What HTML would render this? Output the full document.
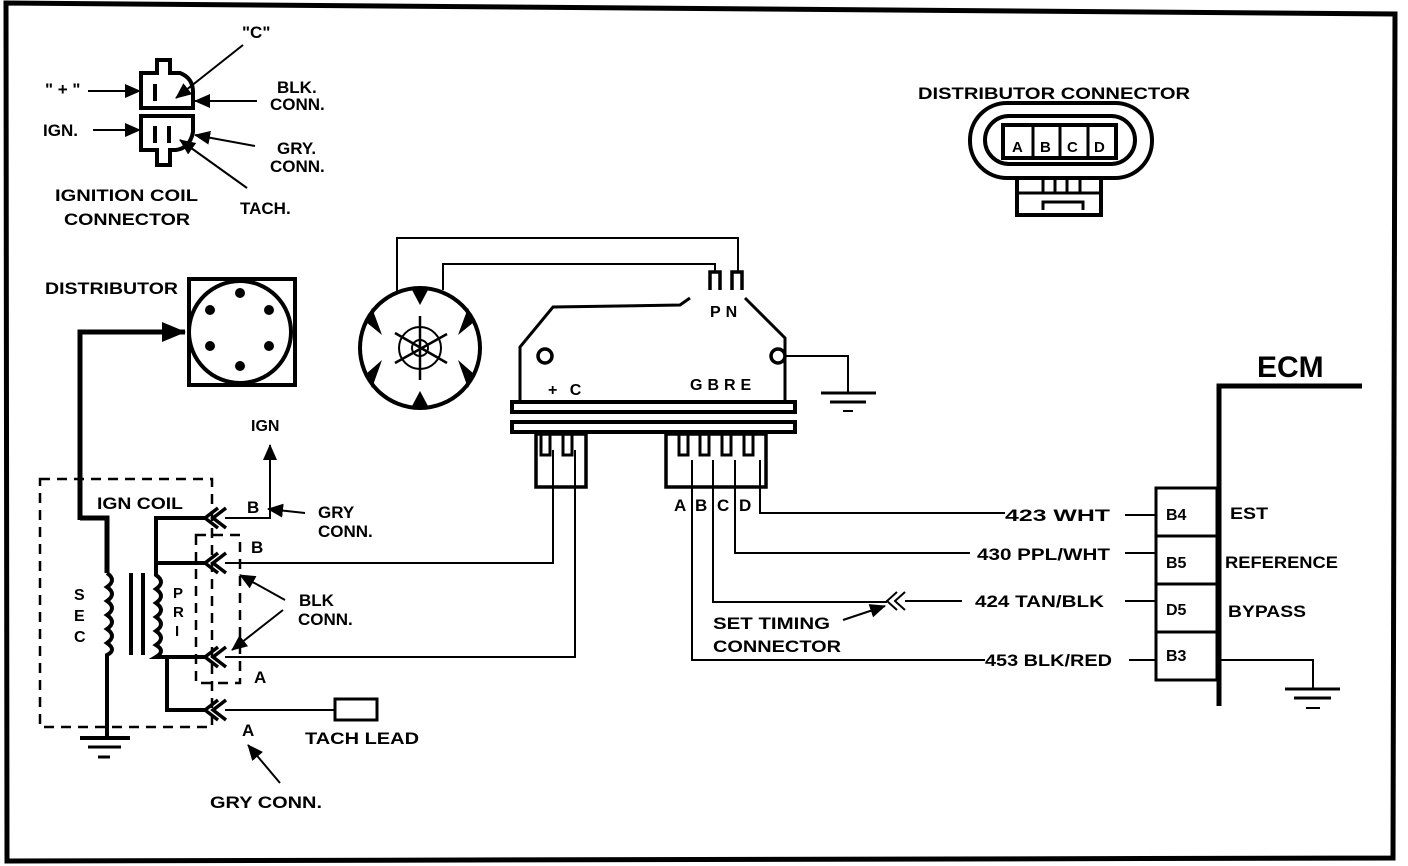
<!DOCTYPE html>
<html><head><meta charset="utf-8"><style>
html,body{margin:0;padding:0;background:#fff;}
svg{display:block;}
text{font-family:"Liberation Sans",sans-serif;font-weight:bold;fill:#000;}
</style></head><body>
<svg width="1408" height="866" viewBox="0 0 1408 866" xmlns="http://www.w3.org/2000/svg" font-size="17">
<defs>
<marker id="ahb" markerWidth="24" markerHeight="20" refX="23" refY="10" orient="auto" markerUnits="userSpaceOnUse"><path d="M0,0 L24,10 L0,20 z" fill="#000"/></marker>
<marker id="ahm" markerWidth="16" markerHeight="14" refX="15" refY="7" orient="auto" markerUnits="userSpaceOnUse"><path d="M0,0 L16,7 L0,14 z" fill="#000"/></marker>
</defs>
<g fill="none" stroke="#000">
<path d="M6,3 L1395,14 L1393,858 L7,861 Z" stroke-width="5"/>

<path d="M141,73 H157 V60 H170 V73 H180 Q193,78 193,92 V108 H141 Z" stroke-width="4"/>
<path d="M141,116 H193 V132 Q190,148 176,150 H170 V165 H157 V150 H141 Z" stroke-width="4"/>
<line x1="155" y1="84" x2="155" y2="101" stroke-width="4"/>
<line x1="155" y1="126" x2="155" y2="143" stroke-width="4"/>
<line x1="169" y1="126" x2="169" y2="143" stroke-width="4"/>
<line x1="88" y1="91" x2="140" y2="91" stroke-width="2" marker-end="url(#ahm)"/>
<line x1="93" y1="130" x2="140" y2="130" stroke-width="2" marker-end="url(#ahm)"/>
<line x1="243" y1="45" x2="176" y2="98" stroke-width="2" marker-end="url(#ahm)"/>
<line x1="257" y1="101" x2="195" y2="101" stroke-width="2" marker-end="url(#ahm)"/>
<line x1="255" y1="146" x2="195" y2="135" stroke-width="2" marker-end="url(#ahm)"/>
<line x1="247" y1="188" x2="180" y2="140" stroke-width="2" marker-end="url(#ahm)"/>

<rect x="189" y="279" width="106" height="106" stroke-width="4"/>
<circle cx="240" cy="332" r="51" stroke-width="4"/>
<path d="M80,520 V332 H185" stroke-width="5" marker-end="url(#ahb)"/>

<rect x="40" y="479" width="172" height="248" stroke-width="2.5" stroke-dasharray="10,7"/>
<path d="M80,518 H107 V573" stroke-width="5"/>
<path d="M107,573 q10,7 0,14 q10,7 0,14 q10,7 0,14 q10,7 0,14 q10,7 0,14 q10,7 0,12 V738" stroke-width="4"/>
<line x1="131" y1="573" x2="131" y2="655" stroke-width="4"/>
<line x1="143" y1="573" x2="143" y2="655" stroke-width="4"/>
<path d="M205,518 H156 V575 q10,7 0,14 q10,7 0,14 q10,7 0,14 q10,7 0,14 q10,7 0,14 q10,6 0,12 V657 H205" stroke-width="4"/>
<line x1="156" y1="563" x2="205" y2="563" stroke-width="4"/>
<path d="M167,657 V710 H205" stroke-width="4"/>
<line x1="80" y1="738" x2="130" y2="738" stroke-width="4"/>
<line x1="88" y1="747" x2="121" y2="747" stroke-width="3"/>
<line x1="98" y1="757" x2="110" y2="757" stroke-width="3"/>
<rect x="196" y="535" width="44" height="148" stroke-width="2.5" stroke-dasharray="10,7"/>
<g stroke-width="3.5">
<path d="M218,508 L205,518 L218,528 M226,508 L213,518 L226,528"/>
<path d="M218,553 L205,563 L218,573 M226,553 L213,563 L226,573"/>
<path d="M218,647 L205,657 L218,667 M226,647 L213,657 L226,667"/>
<path d="M218,700 L205,710 L218,720 M226,700 L213,710 L226,720"/>
</g>
<path d="M225,518 H270 V445" stroke-width="2" marker-end="url(#ahm)"/>
<line x1="305" y1="513" x2="268" y2="509" stroke-width="2" marker-end="url(#ahm)"/>
<path d="M225,563 H553 V450" stroke-width="2"/>
<path d="M225,657 H575 V450" stroke-width="2"/>
<line x1="285" y1="600" x2="240" y2="575" stroke-width="2" marker-end="url(#ahm)"/>
<line x1="283" y1="610" x2="232" y2="650" stroke-width="2" marker-end="url(#ahm)"/>
<line x1="225" y1="710" x2="335" y2="710" stroke-width="2"/>
<rect x="335" y="699" width="42" height="21" stroke-width="3"/>
<line x1="280" y1="783" x2="248" y2="745" stroke-width="2" marker-end="url(#ahm)"/>

<circle cx="420" cy="348" r="60" stroke-width="4"/>
<circle cx="420" cy="348" r="21" stroke-width="2"/>
<circle cx="420" cy="348" r="8" stroke-width="2"/>
<line x1="420" y1="316" x2="420" y2="380" stroke-width="2.5"/>
<line x1="395" y1="363" x2="447" y2="334" stroke-width="2.5"/>
<line x1="395" y1="333" x2="447" y2="363" stroke-width="2.5"/>
<path d="M397,292 V238 H738 V272" stroke-width="2"/>
<path d="M443,290 V264 H715 V272" stroke-width="2"/>
<path d="M710,290 V272 H720 V290 M732,290 V272 H742 V290" stroke-width="3.5"/>

<path d="M520,402 V347 L553,307 L680,305 L690,298" stroke-width="3"/>
<path d="M745,298 L785,338 V402" stroke-width="3"/>
<circle cx="545" cy="356" r="7" stroke-width="3.5"/>
<circle cx="778" cy="356" r="7" stroke-width="3.5"/>
<path d="M785,356 H848 V392" stroke-width="2"/>
<line x1="821" y1="393" x2="876" y2="393" stroke-width="3"/>
<line x1="830" y1="402" x2="866" y2="402" stroke-width="3"/>
<line x1="843" y1="411" x2="853" y2="411" stroke-width="2"/>
<rect x="512" y="402" width="283" height="10" stroke-width="4"/>
<rect x="512" y="422" width="283" height="10" stroke-width="4"/>
<rect x="536" y="434" width="50" height="53" stroke-width="3.5"/>
<rect x="666" y="434" width="100" height="53" stroke-width="3.5"/>
<path d="M541,434 V455 H550 V434 M563,434 V455 H572 V434" stroke-width="3"/>
<path d="M679,434 V455 H688 V434 M700,434 V455 H709 V434 M722,434 V455 H731 V434 M744,434 V455 H753 V434" stroke-width="3"/>
<path d="M692,460 V660 H985" stroke-width="2"/>
<path d="M713,460 V602 H887" stroke-width="2"/>
<path d="M735,460 V553 H970" stroke-width="2"/>
<path d="M760,460 V513 H1005" stroke-width="2"/>
<path d="M897,592 L887,601 L897,610 M905,592 L895,601 L905,610" stroke-width="2"/>
<line x1="905" y1="601" x2="962" y2="601" stroke-width="2"/>
<line x1="843" y1="620" x2="885" y2="606" stroke-width="2" marker-end="url(#ahm)"/>
<line x1="1125" y1="515" x2="1156" y2="515" stroke-width="2"/>
<line x1="1125" y1="553" x2="1156" y2="553" stroke-width="2"/>
<line x1="1125" y1="601" x2="1156" y2="601" stroke-width="2"/>
<line x1="1129" y1="660" x2="1156" y2="660" stroke-width="2"/>

<rect x="1156" y="488" width="61" height="192" stroke-width="3"/>
<line x1="1156" y1="536" x2="1217" y2="536" stroke-width="3"/>
<line x1="1156" y1="584" x2="1217" y2="584" stroke-width="3"/>
<line x1="1156" y1="632" x2="1217" y2="632" stroke-width="3"/>
<path d="M1219,706 V386 H1362" stroke-width="5"/>
<path d="M1219,660 H1313 V688" stroke-width="2"/>
<line x1="1285" y1="689" x2="1340" y2="689" stroke-width="3"/>
<line x1="1294" y1="698" x2="1331" y2="698" stroke-width="3"/>
<line x1="1306" y1="708" x2="1320" y2="708" stroke-width="2"/>

<rect x="970" y="103" width="182" height="75" rx="37" ry="37" stroke-width="4"/>
<rect x="985" y="116" width="150" height="48" rx="24" ry="24" stroke-width="4"/>
<rect x="1003" y="125" width="113" height="33" stroke-width="4"/>
<line x1="1033" y1="125" x2="1033" y2="158" stroke-width="3"/>
<line x1="1060" y1="125" x2="1060" y2="158" stroke-width="3"/>
<line x1="1088" y1="125" x2="1088" y2="158" stroke-width="3"/>
<path d="M1017,178 V215 H1101 V178" stroke-width="4"/>
<path d="M1017,193 H1101 M1043,178 V193 M1055,178 V193 M1067,178 V193 M1080,178 V193" stroke-width="3"/>
<path d="M1043,210 V202 H1083 V210" stroke-width="3"/>
</g>
<g fill="#000">
<circle cx="240" cy="293" r="5"/><circle cx="210" cy="310" r="5"/><circle cx="269" cy="310" r="5"/>
<circle cx="210" cy="346" r="5"/><circle cx="269" cy="346" r="5"/><circle cx="240" cy="366" r="5"/>
<path d="M412,290 L428,290 L420,305 Z"/>
<path d="M412,406 L428,406 L420,391 Z"/>
<path d="M366,322 L372,308 L382,335 Z"/>
<path d="M474,322 L468,308 L458,335 Z"/>
<path d="M366,374 L372,388 L382,360 Z"/>
<path d="M474,374 L468,388 L458,360 Z"/>
</g>

<g>
<text x="242" y="38">"C"</text>
<text x="45" y="95">" + "</text>
<text x="277" y="93">BLK.</text>
<text x="270" y="110">CONN.</text>
<text x="43" y="136">IGN.</text>
<text x="277" y="154">GRY.</text>
<text x="270" y="172">CONN.</text>
<text x="55" y="201" textLength="143" lengthAdjust="spacingAndGlyphs">IGNITION COIL</text>
<text x="64" y="225" textLength="126" lengthAdjust="spacingAndGlyphs">CONNECTOR</text>
<text x="240" y="214">TACH.</text>
<text x="45" y="294" textLength="133" lengthAdjust="spacingAndGlyphs">DISTRIBUTOR</text>
<text x="918" y="99" textLength="272" lengthAdjust="spacingAndGlyphs">DISTRIBUTOR CONNECTOR</text>
<text x="1012" y="152" font-size="15">A</text>
<text x="1040" y="152" font-size="15">B</text>
<text x="1067" y="152" font-size="15">C</text>
<text x="1094" y="152" font-size="15">D</text>
<text x="251" y="431" font-size="16">IGN</text>
<text x="97" y="509" textLength="86" lengthAdjust="spacingAndGlyphs">IGN COIL</text>
<text x="247" y="513">B</text>
<text x="318" y="518">GRY</text>
<text x="318" y="537">CONN.</text>
<text x="251" y="553">B</text>
<text x="299" y="606">BLK</text>
<text x="298" y="625">CONN.</text>
<text x="254" y="683">A</text>
<text x="242" y="736">A</text>
<text x="305" y="744" textLength="114" lengthAdjust="spacingAndGlyphs">TACH LEAD</text>
<text x="210" y="808" textLength="112" lengthAdjust="spacingAndGlyphs">GRY CONN.</text>
<text x="74" y="600" font-size="16">S</text>
<text x="74" y="621" font-size="16">E</text>
<text x="74" y="642" font-size="16">C</text>
<text x="173" y="598" font-size="15">P</text>
<text x="173" y="617" font-size="15">R</text>
<text x="175" y="636" font-size="15">I</text>
<text x="710" y="317" font-size="16" letter-spacing="5">PN</text>
<text x="548" y="395" font-size="16" letter-spacing="4">+ C</text>
<text x="690" y="390" font-size="16" letter-spacing="5">GBRE</text>
<text x="674" y="511">A</text>
<text x="695" y="511">B</text>
<text x="717" y="511">C</text>
<text x="739" y="511">D</text>
<text x="713" y="629" textLength="117" lengthAdjust="spacingAndGlyphs">SET TIMING</text>
<text x="713" y="652" textLength="128" lengthAdjust="spacingAndGlyphs">CONNECTOR</text>
<text x="1005" y="521" textLength="105" lengthAdjust="spacingAndGlyphs">423 WHT</text>
<text x="977" y="560" textLength="133" lengthAdjust="spacingAndGlyphs">430 PPL/WHT</text>
<text x="975" y="607" textLength="129" lengthAdjust="spacingAndGlyphs">424 TAN/BLK</text>
<text x="985" y="666" textLength="127" lengthAdjust="spacingAndGlyphs">453 BLK/RED</text>
<text x="1257" y="377" style="font-size:30px">ECM</text>
<text x="1166" y="520" font-size="16">B4</text>
<text x="1166" y="568" font-size="16">B5</text>
<text x="1166" y="615" font-size="16">D5</text>
<text x="1166" y="661" font-size="16">B3</text>
<text x="1230" y="519" textLength="38" lengthAdjust="spacingAndGlyphs">EST</text>
<text x="1225" y="568" textLength="113" lengthAdjust="spacingAndGlyphs">REFERENCE</text>
<text x="1228" y="617" textLength="78" lengthAdjust="spacingAndGlyphs">BYPASS</text>
</g>
</svg>
</body></html>
